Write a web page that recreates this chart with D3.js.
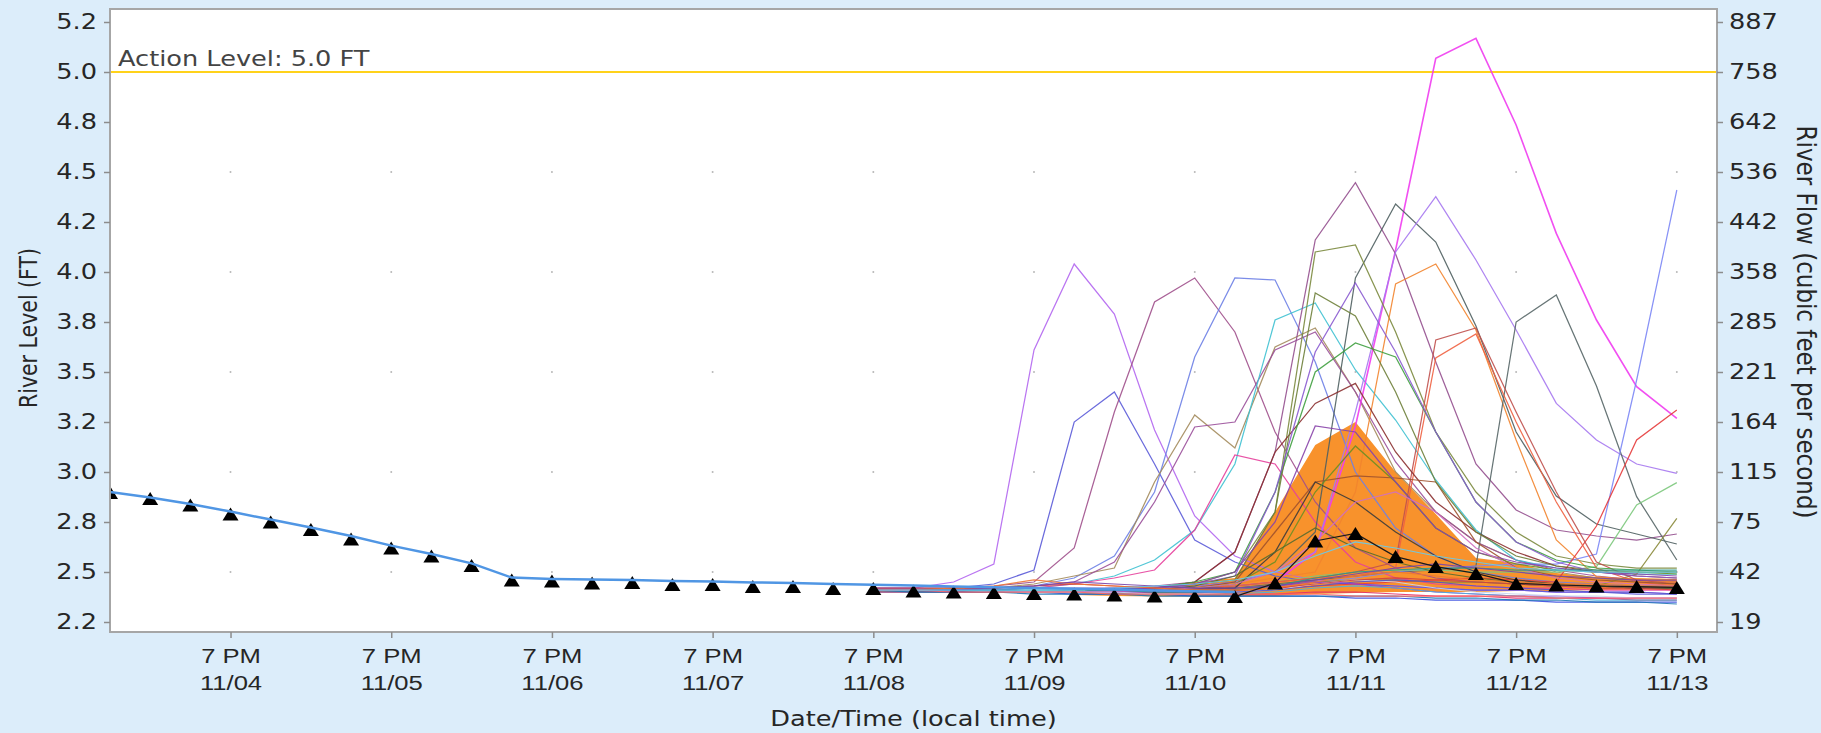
<!DOCTYPE html>
<html>
<head>
<meta charset="utf-8">
<script src="https://cdn.jsdelivr.net/npm/d3@7"></script>
<style>
  html, body { margin: 0; padding: 0; background: #dcedfa; }
  svg { display: block; font-family: "DejaVu Sans", sans-serif; }
</style>
</head>
<body>
<svg id="chart" width="1821" height="733"></svg>
<script>
// time grid: one value every 6 hours, starting 11/04 01:00
const startTime = new Date(2024, 10, 4, 1);
const endTime = new Date(2024, 10, 14, 1);
const stepHours = 6;

const tickDates = [4, 5, 6, 7, 8, 9, 10, 11, 12, 13].map(d => new Date(2024, 10, d, 19));
const tickDayLabels = ["11/04", "11/05", "11/06", "11/07", "11/08", "11/09", "11/10", "11/11", "11/12", "11/13"];

const levelTicks = [2.25, 2.5, 2.75, 3.0, 3.25, 3.5, 3.75, 4.0, 4.25, 4.5, 4.75, 5.0, 5.25];
const levelTickLabels = ["2.2", "2.5", "2.8", "3.0", "3.2", "3.5", "3.8", "4.0", "4.2", "4.5", "4.8", "5.0", "5.2"];
const flowTickLabels = ["19", "42", "75", "115", "164", "221", "285", "358", "442", "536", "642", "758", "887"];
const gridLevels = [2.5, 3.0, 3.5, 4.0, 4.5];

const actionLevel = 5.0;

// observed stage (index 0..28)
const observedLevels = [2.900, 2.872, 2.840, 2.802, 2.762, 2.722, 2.680, 2.632, 2.590, 2.543,
  2.472, 2.465, 2.462, 2.460, 2.455, 2.452, 2.448, 2.445, 2.440, 2.436,
  2.432, 2.428, 2.424, 2.420, 2.416, 2.412, 2.408, 2.404, 2.400];

// triangle markers (index 0..39)
const markerLevels = [2.897, 2.868, 2.835, 2.790, 2.750, 2.712, 2.665, 2.620, 2.580, 2.533,
  2.460, 2.455, 2.445, 2.447, 2.438, 2.438, 2.428, 2.427, 2.418, 2.418,
  2.405, 2.400, 2.398, 2.393, 2.390, 2.385, 2.380, 2.378, 2.377, 2.445,
  2.655, 2.693, 2.577, 2.527, 2.493, 2.443, 2.435, 2.430, 2.427, 2.423];
const forecastStart = 28;

// shaded band (index 24..39)
const bandStart = 24;
const bandUpper = [2.39, 2.40, 2.42, 2.45, 2.47, 2.80, 3.135, 3.25, 3.00, 2.79, 2.57, 2.545, 2.495, 2.475, 2.47, 2.465];
const bandLower = [2.385, 2.38, 2.378, 2.377, 2.377, 2.38, 2.39, 2.395, 2.40, 2.40, 2.40, 2.405, 2.405, 2.41, 2.41, 2.41];

// ensemble members (index 19..39)
const memberStart = 19;
const memberColors = [
  "#b366f0", "#5b5bd8", "#a0508c", "#6d7fe6", "#a38b5c", "#9a4f9a", "#3fc1d1", "#e6409c",
  "#f03cf0", "#95508f", "#4f5f60", "#a678f0", "#7b8a3e", "#f2842e", "#566667", "#7b86f5",
  "#e63b3b", "#7cc87c", "#8a8a3a", "#c0504d", "#f06040", "#8b3030", "#a0522d", "#40a040",
  "#6e7f3a", "#8a5ad0", "#3c3c3c", "#6b8e23", "#8844aa", "#556b2f", "#d070c0", "#3a4fe0",
  "#e0306a", "#9a3ad0", "#4fb0d8", "#c8d4ee", "#d04040", "#5555cc", "#2a9a8a", "#ee7733",
  "#7744aa", "#1f77b4", "#ff6666", "#66ccee"
];
const memberLevels = [
  [2.42, 2.42, 2.45, 2.54, 3.61, 4.04, 3.79, 3.21, 2.78, 2.58, 2.50, 2.46, 2.44, 2.43, 2.42, 2.41, 2.41, 2.40, 2.40, 2.40, 2.39],
  [2.42, 2.42, 2.42, 2.44, 2.51, 3.25, 3.40, 3.04, 2.66, 2.55, 2.48, 2.45, 2.44, 2.43, 2.42, 2.41, 2.41, 2.40, 2.40, 2.39, 2.39],
  [2.41, 2.41, 2.42, 2.43, 2.45, 2.62, 3.30, 3.85, 3.97, 3.70, 3.20, 2.85, 2.62, 2.52, 2.47, 2.45, 2.44, 2.43, 2.43, 2.42, 2.42],
  [2.41, 2.41, 2.41, 2.42, 2.43, 2.47, 2.58, 2.90, 3.575, 3.97, 3.96, 3.55, 3.00, 2.72, 2.58, 2.50, 2.47, 2.45, 2.44, 2.43, 2.43],
  [2.41, 2.41, 2.42, 2.42, 2.44, 2.48, 2.52, 2.95, 3.285, 3.12, 3.625, 3.72, 3.40, 3.00, 2.80, 2.65, 2.56, 2.50, 2.47, 2.45, 2.44],
  [2.41, 2.41, 2.41, 2.42, 2.43, 2.45, 2.55, 2.85, 3.225, 3.25, 3.61, 3.70, 3.40, 3.05, 2.80, 2.65, 2.56, 2.51, 2.48, 2.46, 2.45],
  [2.41, 2.41, 2.41, 2.41, 2.42, 2.44, 2.48, 2.56, 2.71, 3.04, 3.76, 3.845, 3.51, 3.26, 2.96, 2.71, 2.56, 2.52, 2.50, 2.49, 2.49],
  [2.41, 2.41, 2.41, 2.41, 2.42, 2.44, 2.47, 2.51, 2.71, 3.085, 3.04, 2.75, 2.55, 2.47, 2.44, 2.43, 2.42, 2.42, 2.41, 2.41, 2.41],
  [2.40, 2.40, 2.40, 2.40, 2.40, 2.40, 2.40, 2.41, 2.42, 2.43, 2.45, 2.60, 3.23, 4.11, 5.068, 5.168, 4.735, 4.193, 3.76, 3.427, 3.268],
  [2.40, 2.40, 2.40, 2.40, 2.40, 2.41, 2.42, 2.43, 2.45, 2.60, 3.10, 4.16, 4.447, 4.09, 3.55, 3.04, 2.81, 2.71, 2.68, 2.66, 2.69],
  [2.40, 2.40, 2.40, 2.40, 2.40, 2.40, 2.41, 2.42, 2.43, 2.45, 2.50, 2.70, 3.97, 4.34, 4.15, 3.73, 3.20, 2.88, 2.74, 2.69, 2.64],
  [2.40, 2.40, 2.40, 2.40, 2.40, 2.40, 2.41, 2.42, 2.43, 2.45, 2.50, 2.60, 3.30, 4.10, 4.377, 4.06, 3.71, 3.343, 3.16, 3.04, 2.993],
  [2.40, 2.40, 2.40, 2.40, 2.40, 2.40, 2.41, 2.42, 2.44, 2.50, 2.80, 4.10, 4.135, 3.70, 3.20, 2.90, 2.70, 2.58, 2.54, 2.52, 2.52],
  [2.40, 2.40, 2.40, 2.40, 2.40, 2.40, 2.40, 2.41, 2.42, 2.44, 2.47, 2.50, 2.90, 3.94, 4.04, 3.71, 3.16, 2.66, 2.477, 2.46, 2.45],
  [2.40, 2.40, 2.40, 2.40, 2.40, 2.40, 2.40, 2.40, 2.41, 2.42, 2.44, 2.46, 2.48, 2.50, 2.51, 2.53, 3.75, 3.885, 3.43, 2.877, 2.56],
  [2.40, 2.40, 2.40, 2.40, 2.40, 2.40, 2.40, 2.40, 2.41, 2.42, 2.43, 2.45, 2.47, 2.50, 2.52, 2.53, 2.54, 2.54, 2.59, 3.46, 4.41],
  [2.40, 2.40, 2.40, 2.40, 2.40, 2.40, 2.40, 2.40, 2.40, 2.41, 2.42, 2.43, 2.44, 2.45, 2.46, 2.47, 2.46, 2.45, 2.73, 3.16, 3.31],
  [2.40, 2.40, 2.40, 2.40, 2.40, 2.40, 2.40, 2.41, 2.42, 2.43, 2.45, 2.48, 2.50, 2.51, 2.51, 2.50, 2.50, 2.50, 2.527, 2.835, 2.947],
  [2.40, 2.40, 2.40, 2.40, 2.40, 2.40, 2.40, 2.40, 2.41, 2.42, 2.43, 2.45, 2.46, 2.46, 2.45, 2.45, 2.44, 2.43, 2.43, 2.49, 2.768],
  [2.40, 2.40, 2.40, 2.40, 2.40, 2.40, 2.40, 2.41, 2.42, 2.43, 2.45, 2.47, 2.50, 2.55, 3.66, 3.72, 3.30, 2.90, 2.55, 2.46, 2.44],
  [2.40, 2.40, 2.40, 2.40, 2.40, 2.40, 2.40, 2.41, 2.42, 2.43, 2.45, 2.47, 2.48, 2.52, 3.57, 3.69, 3.25, 2.85, 2.52, 2.45, 2.43],
  [2.40, 2.40, 2.40, 2.40, 2.40, 2.40, 2.41, 2.42, 2.45, 2.60, 3.10, 3.343, 3.443, 3.10, 2.85, 2.70, 2.60, 2.53, 2.50, 2.48, 2.47],
  [2.40, 2.40, 2.40, 2.40, 2.40, 2.40, 2.40, 2.41, 2.42, 2.45, 2.70, 2.95, 2.98, 2.97, 2.95, 2.65, 2.52, 2.48, 2.46, 2.45, 2.44],
  [2.40, 2.40, 2.40, 2.40, 2.40, 2.40, 2.41, 2.42, 2.45, 2.50, 2.90, 3.50, 3.645, 3.575, 3.20, 2.85, 2.65, 2.56, 2.52, 2.51, 2.50],
  [2.40, 2.40, 2.40, 2.40, 2.40, 2.40, 2.41, 2.42, 2.44, 2.46, 2.80, 3.895, 3.78, 3.40, 2.95, 2.70, 2.58, 2.53, 2.51, 2.50, 2.50],
  [2.40, 2.40, 2.40, 2.40, 2.40, 2.40, 2.41, 2.42, 2.44, 2.48, 2.90, 3.60, 3.945, 3.60, 3.20, 2.85, 2.65, 2.55, 2.50, 2.48, 2.47],
  [2.40, 2.40, 2.40, 2.40, 2.40, 2.40, 2.40, 2.41, 2.42, 2.42, 2.60, 2.95, 2.85, 2.70, 2.58, 2.50, 2.46, 2.44, 2.43, 2.42, 2.42],
  [2.40, 2.40, 2.40, 2.40, 2.40, 2.40, 2.40, 2.41, 2.42, 2.44, 2.55, 2.90, 3.13, 2.95, 2.72, 2.60, 2.54, 2.51, 2.50, 2.50, 2.49],
  [2.40, 2.40, 2.40, 2.40, 2.40, 2.40, 2.41, 2.42, 2.44, 2.50, 2.75, 3.23, 3.20, 2.95, 2.72, 2.60, 2.55, 2.52, 2.50, 2.49, 2.48],
  [2.40, 2.40, 2.40, 2.40, 2.40, 2.40, 2.40, 2.41, 2.43, 2.48, 2.60, 2.72, 2.62, 2.55, 2.50, 2.47, 2.45, 2.44, 2.43, 2.42, 2.42],
  [2.40, 2.40, 2.40, 2.40, 2.40, 2.40, 2.40, 2.41, 2.42, 2.44, 2.50, 2.65, 2.85, 2.90, 2.80, 2.62, 2.52, 2.47, 2.45, 2.44, 2.43],
  [2.41, 2.41, 2.40, 2.40, 2.40, 2.39, 2.39, 2.39, 2.38, 2.38, 2.38, 2.38, 2.37, 2.37, 2.36, 2.36, 2.36, 2.35, 2.35, 2.35, 2.35],
  [2.41, 2.41, 2.41, 2.40, 2.40, 2.40, 2.40, 2.39, 2.39, 2.39, 2.39, 2.40, 2.40, 2.39, 2.38, 2.38, 2.37, 2.37, 2.37, 2.36, 2.36],
  [2.41, 2.41, 2.41, 2.41, 2.40, 2.40, 2.40, 2.40, 2.40, 2.41, 2.43, 2.45, 2.44, 2.42, 2.40, 2.39, 2.38, 2.38, 2.37, 2.37, 2.37],
  [2.41, 2.41, 2.41, 2.40, 2.40, 2.40, 2.39, 2.39, 2.39, 2.39, 2.40, 2.42, 2.43, 2.42, 2.40, 2.39, 2.38, 2.37, 2.36, 2.36, 2.36],
  [2.41, 2.41, 2.41, 2.40, 2.40, 2.40, 2.40, 2.39, 2.39, 2.40, 2.41, 2.44, 2.46, 2.45, 2.42, 2.40, 2.39, 2.38, 2.38, 2.37, 2.37],
  [2.42, 2.42, 2.42, 2.42, 2.43, 2.44, 2.43, 2.42, 2.41, 2.41, 2.42, 2.44, 2.46, 2.47, 2.46, 2.45, 2.44, 2.43, 2.42, 2.42, 2.41],
  [2.41, 2.41, 2.41, 2.41, 2.42, 2.42, 2.42, 2.41, 2.40, 2.40, 2.41, 2.43, 2.45, 2.46, 2.45, 2.43, 2.42, 2.41, 2.40, 2.40, 2.39],
  [2.41, 2.41, 2.41, 2.41, 2.41, 2.41, 2.41, 2.40, 2.40, 2.41, 2.43, 2.47, 2.50, 2.51, 2.52, 2.52, 2.51, 2.51, 2.51, 2.51, 2.51],
  [2.41, 2.41, 2.42, 2.43, 2.46, 2.44, 2.43, 2.42, 2.41, 2.41, 2.42, 2.45, 2.48, 2.50, 2.48, 2.46, 2.45, 2.44, 2.44, 2.43, 2.43],
  [2.41, 2.41, 2.41, 2.42, 2.43, 2.45, 2.44, 2.43, 2.42, 2.42, 2.43, 2.46, 2.49, 2.52, 2.54, 2.52, 2.50, 2.48, 2.47, 2.46, 2.46],
  [2.41, 2.40, 2.40, 2.40, 2.39, 2.39, 2.39, 2.38, 2.38, 2.38, 2.38, 2.38, 2.38, 2.38, 2.37, 2.37, 2.36, 2.36, 2.35, 2.35, 2.34],
  [2.41, 2.41, 2.40, 2.40, 2.40, 2.40, 2.39, 2.39, 2.39, 2.39, 2.39, 2.39, 2.38, 2.38, 2.38, 2.38, 2.38, 2.37, 2.37, 2.37, 2.37],
  [2.41, 2.41, 2.41, 2.41, 2.41, 2.41, 2.42, 2.43, 2.44, 2.46, 2.50, 2.58, 2.65, 2.62, 2.58, 2.55, 2.52, 2.51, 2.50, 2.50, 2.50]
];

// layout
const plot = { left: 110, right: 1717, top: 9, bottom: 632 };
const sx = 1.25;            // horizontal text stretch of the original image
const fontSize = 20.5;
const textColor = "#262626";

const svg = d3.select("#chart");
const timeAt = k => d3.timeHour.offset(startTime, k * stepHours);

const x = d3.scaleTime().domain([startTime, endTime]).range([plot.left, plot.right]);
const y = d3.scaleLinear().domain([2.2, 5.315]).range([plot.bottom, plot.top]);

svg.append("rect")
  .attr("x", plot.left).attr("y", plot.top)
  .attr("width", plot.right - plot.left).attr("height", plot.bottom - plot.top)
  .attr("fill", "#fff");

svg.append("defs").append("clipPath").attr("id", "plot-clip")
  .append("rect")
  .attr("x", plot.left).attr("y", plot.top)
  .attr("width", plot.right - plot.left).attr("height", plot.bottom - plot.top);

const g = svg.append("g").attr("clip-path", "url(#plot-clip)");

// dotted grid (only the dots at crossings survive in the original)
tickDates.forEach(t => {
  g.selectAll(null).data(gridLevels).enter().append("circle")
    .attr("cx", x(t)).attr("cy", d => y(d)).attr("r", 1)
    .attr("fill", "#b8b8b8");
});

// action level
g.append("line")
  .attr("x1", plot.left).attr("x2", plot.right)
  .attr("y1", y(actionLevel)).attr("y2", y(actionLevel))
  .attr("stroke", "#ffd21a").attr("stroke-width", 2);

svg.append("text")
  .attr("transform", `translate(118,66) scale(${sx},1)`)
  .attr("font-size", fontSize).attr("fill", "#444")
  .text("Action Level: 5.0 FT");

// band
const bandData = bandUpper.map((u, i) => ({ t: timeAt(bandStart + i), hi: u, lo: bandLower[i] }));
g.append("path")
  .datum(bandData)
  .attr("fill", "#f8922c")
  .attr("d", d3.area().x(d => x(d.t)).y0(d => y(d.lo)).y1(d => y(d.hi)));

// ensemble members
const memberLine = d3.line().x(d => x(d.t)).y(d => y(d.v));
g.selectAll(".member")
  .data(memberLevels)
  .enter().append("path")
  .classed("member", true)
  .attr("fill", "none")
  .attr("stroke", (d, i) => memberColors[i])
  .attr("stroke-width", (d, i) => i === 8 ? 1.6 : 1.25)
  .attr("stroke-opacity", 0.9)
  .attr("d", d => memberLine(d.map((v, i) => ({ t: timeAt(memberStart + i), v: v }))));

// markers; connecting line only over the forecast part
const markerData = markerLevels.map((v, i) => ({ t: timeAt(i), v: v }));
g.append("path")
  .datum(markerData.slice(forecastStart))
  .attr("fill", "none").attr("stroke", "#1a1a1a").attr("stroke-width", 1.2)
  .attr("d", memberLine);

g.selectAll(".marker")
  .data(markerData)
  .enter().append("path")
  .classed("marker", true)
  .attr("transform", d => `translate(${x(d.t)},${y(d.v)})`)
  .attr("d", "M0,-6.5L8,6.5L-8,6.5Z")
  .attr("fill", "#000");

// observed
g.append("path")
  .datum(observedLevels.map((v, i) => ({ t: timeAt(i), v: v })))
  .attr("fill", "none").attr("stroke", "#5096e4").attr("stroke-width", 2.5)
  .attr("d", memberLine);

// frame
svg.append("rect")
  .attr("x", plot.left).attr("y", plot.top)
  .attr("width", plot.right - plot.left).attr("height", plot.bottom - plot.top)
  .attr("fill", "none").attr("stroke", "#a6a6a6").attr("stroke-width", 2);

// axes
const leftAxis = svg.append("g")
  .attr("transform", `translate(${plot.left},0)`)
  .call(d3.axisLeft(y).tickValues(levelTicks)
    .tickFormat((d, i) => levelTickLabels[i]).tickSizeOuter(0).tickPadding(4.4));

const rightAxis = svg.append("g")
  .attr("transform", `translate(${plot.right},0)`)
  .call(d3.axisRight(y).tickValues(levelTicks)
    .tickFormat((d, i) => flowTickLabels[i]).tickSizeOuter(0).tickPadding(3.6));

const bottomAxis = svg.append("g")
  .attr("transform", `translate(0,${plot.bottom})`)
  .call(d3.axisBottom(x).tickValues(tickDates).tickFormat(() => "").tickSizeOuter(0));

[leftAxis, rightAxis, bottomAxis].forEach(a => {
  a.select(".domain").remove();
  a.selectAll(".tick line").attr("stroke", "#8c8c8c").attr("stroke-width", 1.5);
  a.selectAll(".tick text")
    .attr("font-size", fontSize)
    .attr("font-family", "DejaVu Sans, sans-serif")
    .attr("fill", textColor)
    .attr("transform", `scale(${sx},1)`);
});

bottomAxis.selectAll(".tick text").remove();
bottomAxis.selectAll(".tick").each(function (d, i) {
  const tick = d3.select(this);
  tick.append("text")
    .attr("transform", `translate(0,31) scale(${sx},1)`)
    .attr("text-anchor", "middle").attr("font-size", fontSize).attr("fill", textColor)
    .text("7 PM");
  tick.append("text")
    .attr("transform", `translate(0,58) scale(${sx},1)`)
    .attr("text-anchor", "middle").attr("font-size", fontSize).attr("fill", textColor)
    .text(tickDayLabels[i]);
});

// axis titles
svg.append("text")
  .attr("transform", `translate(${(plot.left + plot.right) / 2},726) scale(${sx},1)`)
  .attr("text-anchor", "middle").attr("font-size", fontSize).attr("fill", textColor)
  .text("Date/Time (local time)");

svg.append("text")
  .attr("transform", `translate(36.5,328) scale(${sx},1) rotate(-90)`)
  .attr("text-anchor", "middle").attr("font-size", fontSize).attr("fill", textColor)
  .text("River Level (FT)");

svg.append("text")
  .attr("transform", `translate(1797,322) scale(1.12,1) rotate(90)`)
  .attr("text-anchor", "middle").attr("font-size", 23).attr("fill", textColor)
  .text("River Flow (cubic feet per second)");
</script>
</body>
</html>
